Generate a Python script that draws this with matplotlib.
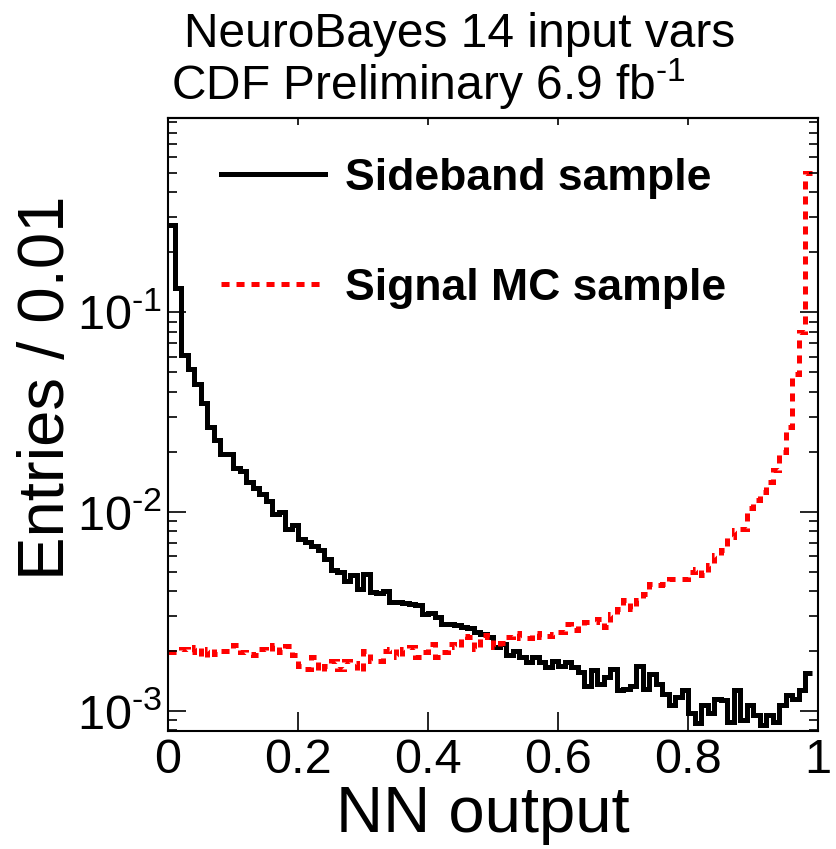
import numpy as np
import matplotlib
matplotlib.use('Agg')
import matplotlib.pyplot as plt
from matplotlib.ticker import FixedLocator, LogLocator, NullLocator, NullFormatter

plt.rcParams['font.family'] = ['Liberation Sans', 'DejaVu Sans']
plt.rcParams['mathtext.fontset'] = 'custom'
plt.rcParams['mathtext.rm'] = 'Liberation Sans'
plt.rcParams['mathtext.bf'] = 'Liberation Sans:bold'
plt.rcParams['lines.scale_dashes'] = False

# histogram contents, bin width 0.01 (bins 0.00 .. 0.98)
sideband = [
    0.275, 0.132, 0.061, 0.052, 0.044, 0.035, 0.0267, 0.0229, 0.0196, 0.0195,
    0.0165, 0.016, 0.0141, 0.0132, 0.0123, 0.0113, 0.0098, 0.0100, 0.00815, 0.00855,
    0.00733, 0.00705, 0.00671, 0.0064, 0.00582, 0.00513, 0.00499, 0.00449, 0.0048, 0.00411,
    0.00489, 0.00396, 0.0039, 0.0040, 0.00352, 0.00352, 0.00349, 0.00346, 0.0034, 0.00308,
    0.0031, 0.00297, 0.00274, 0.00274, 0.0027, 0.00264, 0.0026, 0.0025,
    0.00244, 0.00235, 0.0021, 0.00218, 0.0019, 0.00201, 0.00186, 0.00176, 0.00186, 0.00176,
    0.00166, 0.00179, 0.00169, 0.00176, 0.00166, 0.00157, 0.00134, 0.0016, 0.00137, 0.00148,
    0.00163, 0.00127, 0.00129, 0.00134, 0.00169, 0.00129, 0.00154, 0.00137, 0.00122, 0.00107,
    0.00117, 0.00128, 0.00098, 0.00087, 0.00107, 0.00098, 0.00115, 0.00113, 0.00088, 0.00127,
    0.0009, 0.00107, 0.00095, 0.00085, 0.00095, 0.00088, 0.00107, 0.0012, 0.00115, 0.00127,
    0.00155]

signal_mc = [
    0.00197, 0.00197, 0.00205, 0.00197, 0.0021, 0.00186, 0.00205, 0.00193, 0.00201, 0.00201,
    0.00214, 0.00197, 0.00193, 0.0019, 0.00205, 0.0020, 0.00214, 0.00197, 0.00213, 0.0019,
    0.00169, 0.00163, 0.00186, 0.00158, 0.00169, 0.00179, 0.00163, 0.00179, 0.00175, 0.00158,
    0.00201, 0.00179, 0.00179, 0.00201, 0.00205, 0.00186, 0.00205, 0.0021, 0.00186, 0.00197,
    0.00218, 0.00186, 0.00197, 0.00218, 0.0021, 0.00239, 0.00235, 0.00205,
    0.0024, 0.00235, 0.0021, 0.0022, 0.00235, 0.00247, 0.00232, 0.00232, 0.00247, 0.00235,
    0.00238, 0.00244, 0.0025, 0.00274, 0.00254, 0.00269, 0.00279, 0.00279, 0.0029, 0.00264,
    0.00308, 0.00326, 0.00359, 0.00326, 0.0036, 0.00388, 0.00436, 0.0043, 0.00436, 0.00461,
    0.00461, 0.00461, 0.00499, 0.00519, 0.0048, 0.00539, 0.00604, 0.0064, 0.0075, 0.0081,
    0.0082, 0.0104, 0.0114, 0.0126, 0.0141, 0.0162, 0.0200, 0.0267, 0.0494, 0.080,
    0.50]

bin_width = 0.01
series_labels = ['Sideband sample', 'Signal MC sample']
x_ticks = [0, 0.2, 0.4, 0.6, 0.8, 1.0]
x_ticklabels = ['0', '0.2', '0.4', '0.6', '0.8', '1']
y_ticks = [1e-3, 1e-2, 1e-1]
# ROOT style exponent with a short hyphen
y_ticklabels = [r'$\mathregular{10^{‐3}}$', r'$\mathregular{10^{‐2}}$', r'$\mathregular{10^{‐1}}$']

edges = np.arange(len(sideband) + 1) * bin_width

fig = plt.figure(figsize=(8.36, 8.49), dpi=100)
ax = fig.add_axes([168/836, 1 - 731/849, 650/836, 613/849])

ax.stairs(sideband, edges, baseline=None, color='black', lw=3.6, label=series_labels[0])
ax.stairs(signal_mc, edges, baseline=None, color='red', lw=3.6,
          linestyle=(0, (5.8, 5.0)), label=series_labels[1])

ax.set_yscale('log')
ax.set_xlim(0, 1)
ax.set_ylim(7.94e-4, 0.946)

ax.xaxis.set_major_locator(FixedLocator(x_ticks))
ax.set_xticklabels(x_ticklabels)
ax.xaxis.set_minor_locator(NullLocator())
ax.yaxis.set_major_locator(FixedLocator(y_ticks))
ax.set_yticklabels(y_ticklabels)
ax.yaxis.set_minor_locator(LogLocator(base=10, subs=np.arange(2, 10)))
ax.yaxis.set_minor_formatter(NullFormatter())

ax.tick_params(axis='x', which='major', direction='in', length=14, width=1.2,
               labelsize=35, pad=5, top=False)
ax.tick_params(axis='y', which='major', direction='in', length=13, width=1.2,
               labelsize=35, pad=4, right=True)
ax.tick_params(axis='y', which='minor', direction='in', length=6.5, width=1.2, right=True)

# short ticks along the top edge
top = ax.secondary_xaxis('top')
top.set_xticks(x_ticks)
top.tick_params(direction='in', length=5, width=1.2, labeltop=False)

for sp in ax.spines.values():
    sp.set_linewidth(1.5)
top.spines['top'].set_linewidth(1.5)

ax.legend(loc='upper left', bbox_to_anchor=(0.0815, 0.935), frameon=False,
          borderpad=0, borderaxespad=0, handlelength=2.34, handletextpad=0.45,
          labelspacing=1.55, prop={'weight': 'bold', 'size': 32})

fig.text(184/836, 1 - 47/849, 'NeuroBayes 14 input vars', fontsize=34.5,
         ha='left', va='baseline')
fig.text(171/836, 1 - 100/849, r'CDF Preliminary 6.9 fb$^{\mathregular{‐1}}$', fontsize=34.5,
         ha='left', va='baseline')
fig.text(483/836, 1 - 832/849, 'NN output', fontsize=47, ha='center', va='baseline')
fig.text(47/836, 1 - 388/849, 'Entries / 0.01', fontsize=47, rotation=90,
         ha='center', va='center')

fig.savefig('out.png', dpi=100)
